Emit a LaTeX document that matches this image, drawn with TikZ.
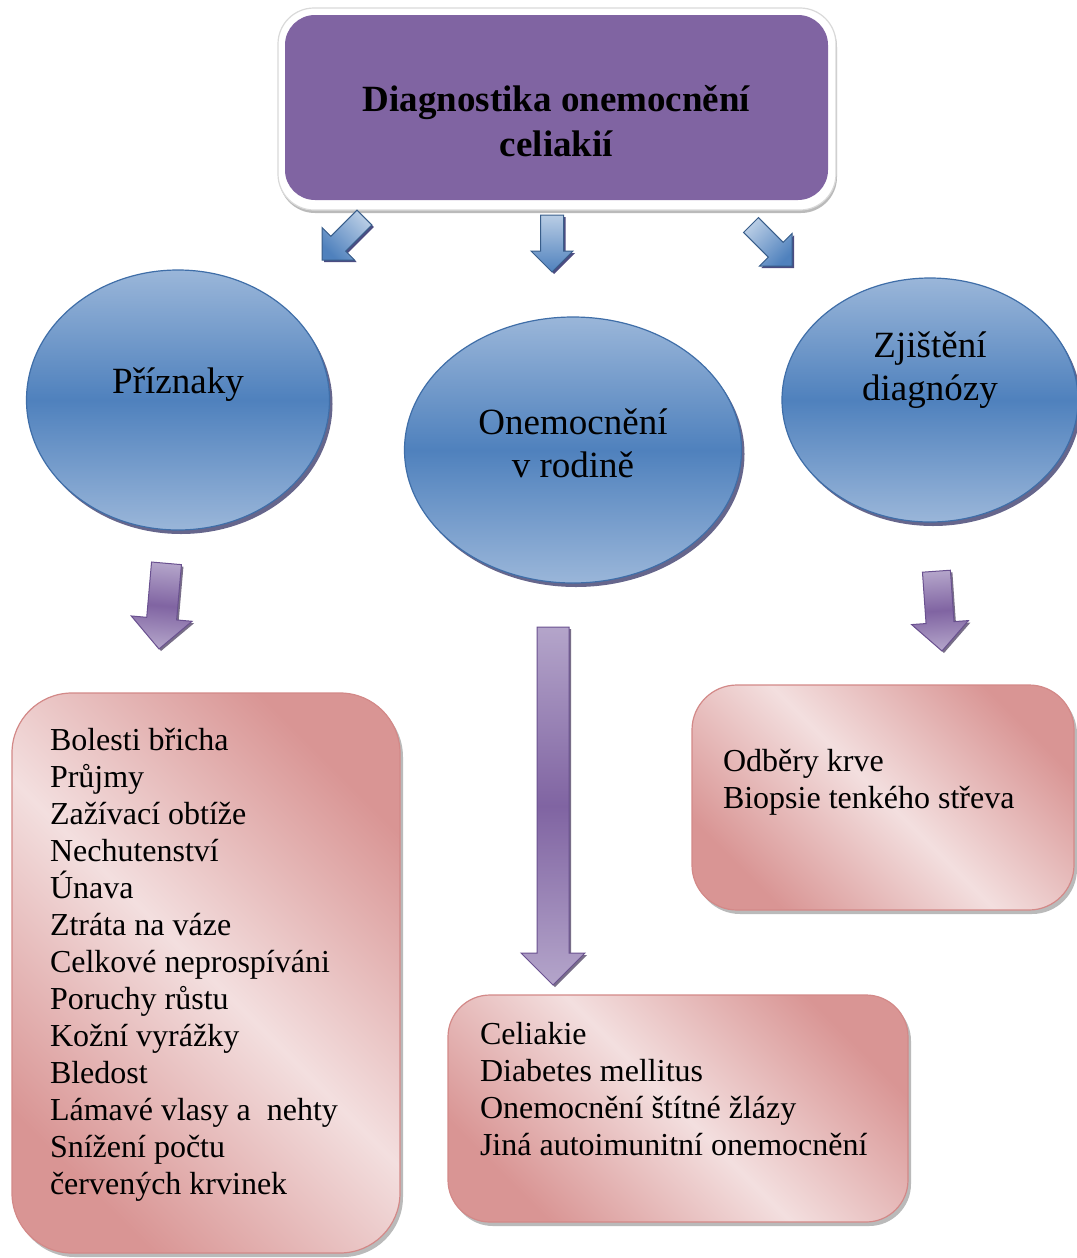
\documentclass[tikz,border=0pt]{standalone}
\usepackage{fontspec}
\setmainfont{Liberation Serif}
\usetikzlibrary{shapes.geometric,shapes.arrows,shadows}

\definecolor{titlePurple}{HTML}{8064A2}
\definecolor{blueDark}{HTML}{4F81BD}
\definecolor{blueLight}{HTML}{9AB6D9}
\definecolor{blueEdge}{HTML}{3F6EA8}
\definecolor{arrowBlueLight}{HTML}{B9CDE5}
\definecolor{arrowBlueEdge}{HTML}{385D8A}
\definecolor{pinkDark}{HTML}{D99594}
\definecolor{pinkLight}{HTML}{F3DFDF}
\definecolor{pinkEdge}{HTML}{D38988}
\definecolor{violetLight}{HTML}{B4A5CA}
\definecolor{violetDark}{HTML}{8064A2}
\definecolor{violetEdge}{HTML}{6A5190}

\begin{document}
\begin{tikzpicture}[x=1pt,y=-1pt,
  every node/.style={inner sep=0pt, outer sep=0pt},
  titleframe/.style={rectangle, rounded corners=36pt, fill=white, draw=black!15, line width=1.2pt,
    drop shadow={shadow xshift=1pt, shadow yshift=-3pt, fill=black!45, opacity=0.6}},
  titlebox/.style={rectangle, rounded corners=30pt, fill=titlePurple},
  titletext/.style={align=center, font=\fontsize{37}{45}\selectfont\bfseries},
  bubble/.style={ellipse, draw=blueEdge, line width=1.2pt,
    top color=blueLight, bottom color=blueLight, middle color=blueDark,
    drop shadow={shadow xshift=3pt, shadow yshift=-4pt, fill=blue!25!black, opacity=0.6}},
  bubbletext/.style={align=center, font=\fontsize{37}{43}\selectfont},
  card/.style={rectangle, draw=pinkEdge, line width=1.2pt,
    top color=pinkDark, bottom color=pinkDark, middle color=pinkLight, shading angle=-45,
    drop shadow={shadow xshift=3pt, shadow yshift=-4pt, fill=black!45, opacity=0.6}},
  cardtext/.style={align=left, anchor=north west, font=\fontsize{32}{37}\selectfont},
  blockarrow/.style={single arrow, single arrow head indent=0pt, single arrow tip angle=90,
    inner sep=0pt, text depth=0pt, anchor=tip, line width=1pt},
  % the shading axis runs from tail (top colour) to tip (bottom colour);
  % the argument is the canvas angle of the shading axis
  bluearrow/.style={blockarrow, draw=arrowBlueEdge,
    top color=arrowBlueLight, bottom color=blueDark, shading angle=#1,
    drop shadow={shadow xshift=2pt, shadow yshift=-2pt, fill=blue!30!black, opacity=0.7}},
  violetarrow/.style={blockarrow, draw=violetEdge,
    top color=violetLight, bottom color=violetLight, middle color=violetDark, shading angle=#1,
    drop shadow={shadow xshift=2pt, shadow yshift=-2pt, fill=violetEdge!60!black, opacity=0.7}},
]
\useasboundingbox[fill=white] (0,0) rectangle (1076,1258);

% title box with its white frame
\node[titleframe, minimum width=558pt, minimum height=202pt] (titleFrame) at (557,109) {};
\node[titlebox, minimum width=543pt, minimum height=185pt,
  label={[titletext, name=titleText, yshift=-14pt]center:Diagnostika onemocnění\\celiakií}]
  (title) at (556.5,107.5) {};

% small arrows below the title
\node[bluearrow=-45, rotate=-135, minimum height=60pt, text height=20pt, single arrow head extend=12.5pt]
  (toSym) at (322,260) {};
\node[bluearrow=0, rotate=-90, minimum height=57pt, text height=22pt, single arrow head extend=9.5pt]
  (toFam) at (552,272) {};
\node[bluearrow=45, rotate=-45, minimum height=58pt, text height=20pt, single arrow head extend=12.5pt]
  (toDiag) at (792,266) {};

% three topics
\node[bubble, minimum width=303pt, minimum height=260pt,
  label={[bubbletext, name=symText, yshift=15pt]center:Příznaky}] (sym) at (178,400) {};
\node[bubble, minimum width=337pt, minimum height=266pt,
  label={[bubbletext, name=famText, yshift=7pt]center:Onemocnění\\v rodině}] (fam) at (573,450) {};
\node[bubble, minimum width=296pt, minimum height=244pt,
  label={[bubbletext, name=diagText, yshift=30pt]center:Zjištění\\diagnózy}] (diag) at (930,400) {};

% arrows towards the lists
\node[violetarrow=-5, rotate=-95, minimum height=86pt, text height=29pt, single arrow head extend=15.5pt]
  (symArrow) at (159,649) {};
\node[violetarrow=0, rotate=-90, minimum height=358pt, text height=31pt, single arrow head extend=16pt]
  (famArrow) at (553,985) {};
\node[violetarrow=4, rotate=-86, minimum height=80pt, text height=27pt, single arrow head extend=14.5pt]
  (diagArrow) at (942,651) {};

% lists
\node[card, rounded corners=60pt, minimum width=388pt, minimum height=560pt] (symBox) at (206,973) {};
\node[cardtext] (symList) at (50,728) {Bolesti břicha\\Průjmy\\Zažívací obtíže\\Nechutenství\\Únava\\Ztráta na váze\\Celkové neprospíváni\\Poruchy růstu\\Kožní vyrážky\\Bledost\\Lámavé vlasy a~~nehty\\Snížení počtu\\červených krvinek};

\node[card, rounded corners=42pt, minimum width=460pt, minimum height=227pt] (famBox) at (678,1108.5) {};
\node[cardtext] (famList) at (480,1022) {Celiakie\\Diabetes mellitus\\Onemocnění štítné žlázy\\Jiná autoimunitní onemocnění};

\node[card, rounded corners=45pt, minimum width=382pt, minimum height=225pt] (diagBox) at (883,797.5) {};
\node[cardtext] (diagList) at (723,749) {Odběry krve\\Biopsie tenkého střeva};
\end{tikzpicture}
\end{document}
